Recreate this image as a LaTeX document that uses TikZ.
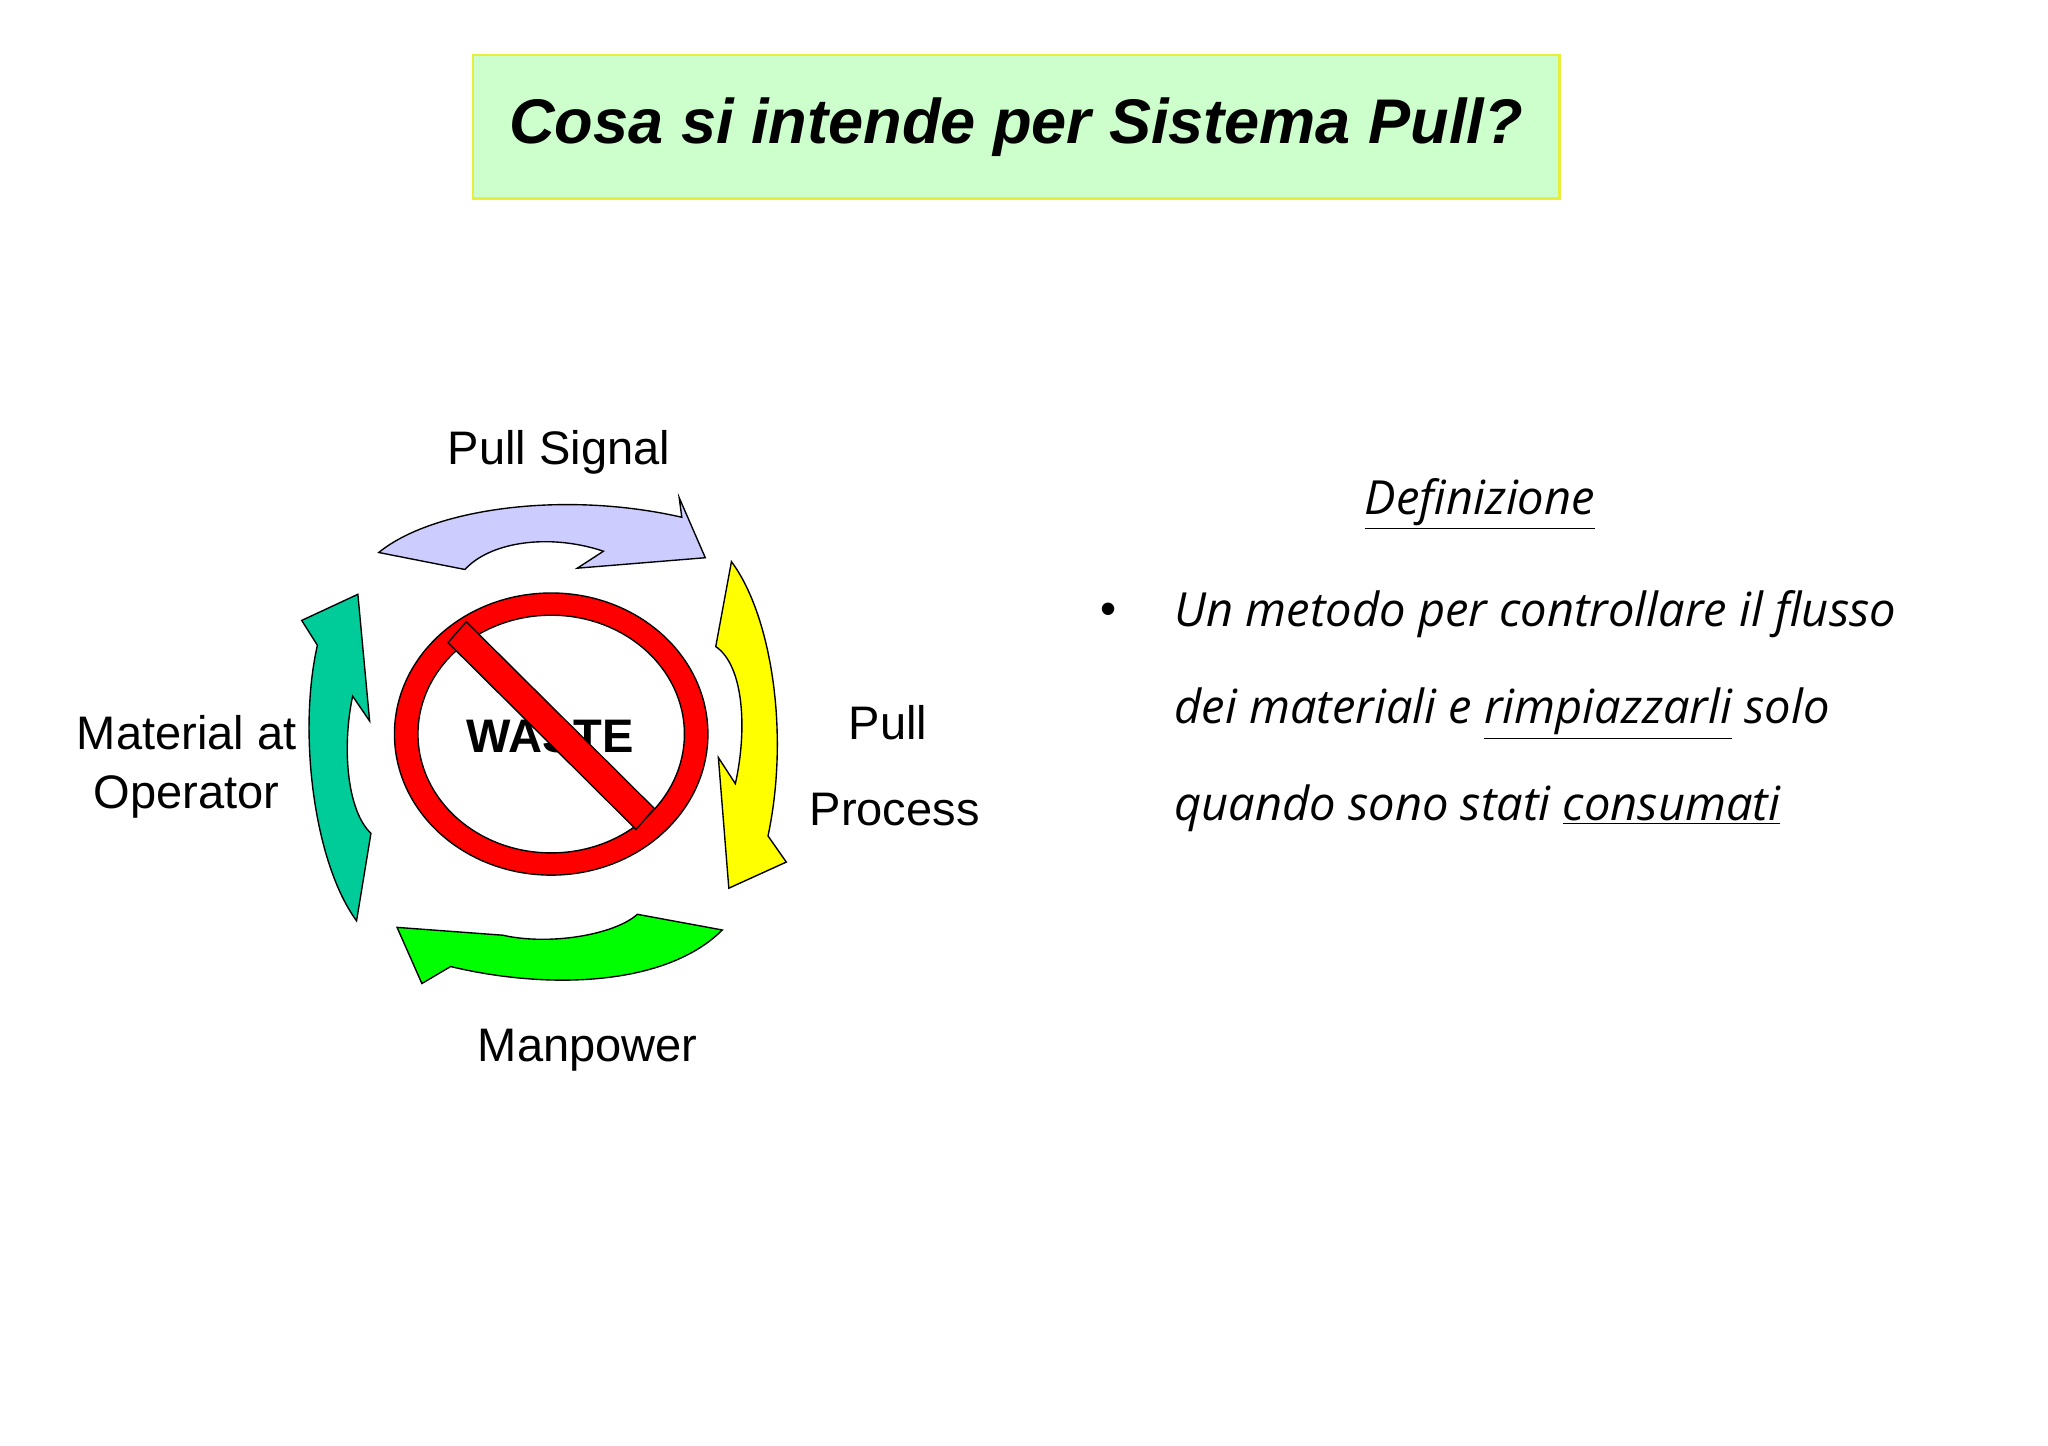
\documentclass[tikz,border=0pt]{standalone}
\usepackage{fontspec}
\setmainfont{Liberation Sans}
\newfontfamily\deffont{Open Sans}
\definecolor{titlebg}{HTML}{CCFFCC}
\definecolor{titleln}{HTML}{E6F03C}
\definecolor{lav}{HTML}{CCCCFF}
\definecolor{yel}{HTML}{FFFF00}
\definecolor{grn}{HTML}{00FF00}
\definecolor{teal}{HTML}{00CC99}
\begin{document}
\begin{tikzpicture}[x=0.02cm,y=-0.02cm,
  arr/.style={draw=black,line width=0.6pt},
  lbl/.style={font=\fontsize{20.5}{24}\selectfont},
  deftxt/.style={font=\deffont\itshape\fontsize{20.5}{24}\selectfont,anchor=base west}]
\useasboundingbox (0,0) rectangle (1568,1107);
\node[draw=titleln,fill=titlebg,line width=1pt,minimum width=832*0.02cm,minimum height=110*0.02cm,font=\bfseries\itshape\fontsize{27.5}{32}\selectfont] (title) at (778,97) {Cosa si intende per Sistema Pull?};
% arrows
\path[arr,fill=lav] (290,423) .. controls (330,390) and (430,375) .. (522,396) -- (520,381) -- (540,427) -- (442,435) -- (462,422) .. controls (420,408) and (375,415) .. (356,436) -- cycle;
\path[arr,fill=yel] (560,430) .. controls (590,470) and (605,560) .. (588,640) -- (602,660) -- (558,680) -- (550,580) -- (563,600) .. controls (572,560) and (570,510) .. (548,495) -- cycle;
\path[arr,fill=grn] (553,712) .. controls (510,755) and (420,758) .. (345,740) -- (323,753) -- (304,710) -- (385,716) .. controls (420,724) and (470,716) .. (488,700) -- cycle;
\path[arr,fill=teal] (273,705) .. controls (240,660) and (228,560) .. (243,494) -- (231,475) -- (274,455) -- (283,552) -- (270,533) .. controls (262,570) and (265,620) .. (284,638) -- cycle;
% no sign
\node[font=\bfseries\fontsize{20.5}{24}\selectfont] (waste) at (421,564) {WASTE};
\path[draw=black,fill=red,line width=0.6pt,even odd rule] (422,562) ellipse [x radius=120,y radius=108] (422,562) ellipse [x radius=102,y radius=91];
\path[draw=black,fill=red,line width=0.6pt] (343,492) -- (357,476) -- (501,619) -- (487,635) -- cycle;
\node[lbl] (ps) at (428,346) {Pull Signal};
\node[lbl] (pp1) at (680,553) {Pull};
\node[lbl] (pp2) at (685,620) {Process};
\node[lbl,align=center] (mo) at (143,587) {Material at\\[2pt]Operator};
\node[lbl] (mp) at (450,804) {Manpower};
% definition
\node[font=\deffont\itshape\fontsize{20.5}{24}\selectfont] (def) at (1133,386) {\underline{Definizione}};
\node[font=\fontsize{20}{22}\selectfont] (bul) at (849,470) {•};
\node[deftxt] (l1) at (893,480) {Un metodo per controllare il flusso};
\node[deftxt] (l2) at (893,554) {dei materiali e \underline{rimpiazzarli} solo};
\node[deftxt] (l3) at (893,628) {quando sono stati \underline{consumati}};
\end{tikzpicture}
\end{document}
